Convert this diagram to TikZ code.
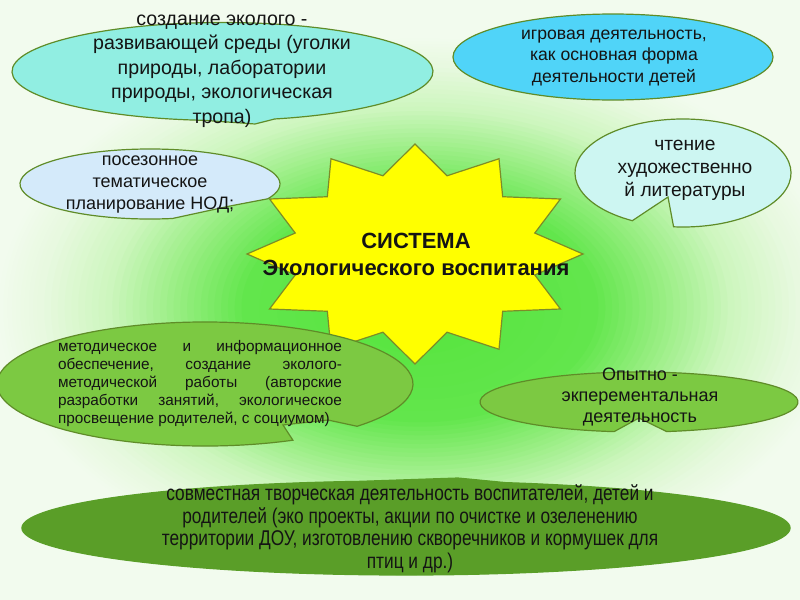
\documentclass[tikz,border=0pt]{standalone}
\usepackage{fontspec}
\setmainfont{Liberation Sans}
\newfontfamily\narrowfont[FakeStretch=0.81]{Liberation Sans}
\definecolor{bgA}{RGB}{85,228,60}
\definecolor{bgB}{RGB}{98,230,76}
\definecolor{bgC}{RGB}{152,238,130}
\definecolor{bgD}{RGB}{205,246,190}
\definecolor{bgF}{RGB}{232,249,224}
\definecolor{bgE}{RGB}{242,251,238}
\definecolor{tlfill}{RGB}{145,238,226}
\definecolor{trfill}{RGB}{80,212,248}
\definecolor{rbfill}{RGB}{205,246,242}
\definecolor{psfill}{RGB}{212,234,250}
\definecolor{staryellow}{RGB}{255,255,0}
\definecolor{starline}{RGB}{125,140,40}
\definecolor{lgfill}{RGB}{124,201,66}
\definecolor{botfill}{RGB}{90,158,40}
\definecolor{lineg}{RGB}{95,140,40}
\definecolor{textc}{RGB}{20,20,20}
\begin{document}
\begin{tikzpicture}[x=0.75pt,y=-0.75pt,
  bubble/.style={draw=lineg, line width=0.9pt},
  txt/.style={align=center, text=textc, inner sep=0pt}]
\fill[bgE] (0,0) rectangle (800,600);
\begin{scope}
\clip (0,0) rectangle (800,600);
\foreach \ca/\cb/\ta/\tb in {bgE/bgF/1.0/0.9, bgF/bgD/0.9/0.74, bgD/bgC/0.74/0.58, bgC/bgB/0.58/0.42, bgB/bgA/0.42/0.0}{
  \foreach \i in {0,...,9}{
    \pgfmathsetmacro\tt{\ta-(\ta-\tb)*\i/10}
    \pgfmathtruncatemacro\pp{10*\i}
    \fill[\cb!\pp!\ca] (420,308) ellipse[x radius=425*\tt, y radius=272*\tt];
  }
}
\end{scope}
\useasboundingbox (0,0) rectangle (800,600);
% star
\draw[draw=starline, line width=0.9pt, fill=staryellow]
  plot[samples at={0,...,23}] ({415+(168-44*mod(\x,2))*cos(-90+15*\x)},{254+(110-29*mod(\x,2))*sin(-90+15*\x)}) -- cycle;
% top-left callout
\draw[bubble, fill=tlfill] (222.5,71.5) ++(95:210.5 and 49)
  arc[start angle=95, end angle=435.6, x radius=210.5, y radius=49] -- (255,124) -- cycle;
% top-right ellipse
\draw[bubble, fill=trfill] (613,57) ellipse[x radius=160, y radius=43];
% right callout
\draw[bubble, fill=rbfill] (683,173) ++(118:108 and 54)
  arc[start angle=118, end angle=455, x radius=108, y radius=54] -- (668,197) -- cycle;
% posezonnoe callout
\draw[bubble, fill=psfill] (150,184) ++(80:130 and 35)
  arc[start angle=80, end angle=385, x radius=130, y radius=35] -- (230,206) -- cycle;
% left green callout
\draw[bubble, fill=lgfill] (205,384) ++(65:208 and 62)
  arc[start angle=65, end angle=403, x radius=208, y radius=62] -- (328,420) -- (283,425) -- cycle;
% right green callout
\draw[bubble, fill=lgfill] (639,402) ++(99:159 and 30)
  arc[start angle=99, end angle=440, x radius=159, y radius=30] -- (639,418) -- cycle;
% bottom callout
\draw[draw=botfill, line width=0.9pt, fill=botfill] (406,528) ++(285:384 and 47)
  arc[start angle=285, end angle=623, x radius=384, y radius=47] -- (458,478) -- cycle;
% texts
\node[txt, font=\fontsize{14.7pt}{18.4pt}\selectfont] (tl) at (222,71)
  {создание эколого -\\развивающей среды (уголки\\природы, лаборатории\\природы, экологическая\\тропа)};
\node[txt, font=\fontsize{13.2pt}{16.1pt}\selectfont] (tr) at (614,58)
  {игровая деятельность,\\как основная форма\\деятельности детей};
\node[txt, font=\fontsize{14.4pt}{17.25pt}\selectfont] (rb) at (685,170)
  {чтение\\художественно\\й литературы};
\node[txt, font=\fontsize{13.5pt}{16.5pt}\selectfont] (ps) at (150,185)
  {посезонное\\тематическое\\планирование НОД;};
\node[txt, font=\bfseries\fontsize{16.5pt}{20.2pt}\selectfont] (star) at (416,254)
  {СИСТЕМА\\Экологического воспитания};
\node[inner sep=0pt, text=textc, font=\fontsize{11.5pt}{13.5pt}\selectfont] (lg) at (200,384)
  {\parbox{213pt}{%
   \hbox to\hsize{методическое\hfill и\hfill информационное}%
   \hbox to\hsize{обеспечение,\hfill создание\hfill эколого-}%
   \hbox to\hsize{методической\hfill работы\hfill (авторские}%
   \hbox to\hsize{разработки\hfill занятий,\hfill экологическое}%
   \hbox to\hsize{просвещение родителей, с социумом)\hfill}}};
\node[txt, font=\fontsize{13.5pt}{15.75pt}\selectfont] (rg) at (640,397)
  {Опытно -\\экперементальная\\деятельность};
\node[txt, font=\narrowfont\fontsize{16pt}{16.9pt}\selectfont] (bot) at (410,529)
  {совместная творческая деятельность воспитателей, детей и\\родителей (эко проекты, акции по очистке и озеленению\\территории ДОУ, изготовлению скворечников и кормушек для\\птиц и др.)};
\end{tikzpicture}
\end{document}
